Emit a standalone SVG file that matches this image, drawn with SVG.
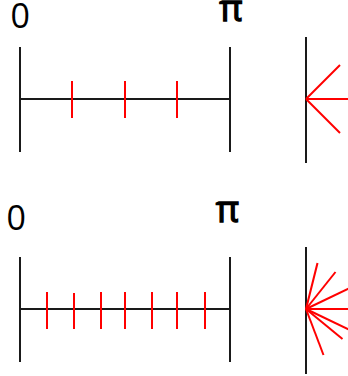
<svg xmlns="http://www.w3.org/2000/svg" width="348" height="376" viewBox="0 0 348 376">
<style>
.k{stroke:#1a1a1a;stroke-width:2;fill:none}
.r{stroke:#ff0000;stroke-width:2;fill:none}
.t{font-family:"Open Sans","Liberation Sans",sans-serif;font-size:34px;fill:#000}
.p{font-family:"Open Sans","Liberation Sans",sans-serif;font-size:36px;fill:#000;stroke:#000;stroke-width:1.3;text-anchor:middle}
</style>
<rect width="348" height="376" fill="#fff"/>
<g id="top-interval">
<text class="t" x="10.5" y="28">0</text>
<text class="p" x="231" y="21">π</text>
<line class="k" x1="20" y1="47" x2="20" y2="152"/>
<line class="k" x1="230" y1="47" x2="230" y2="152"/>
<line class="k" x1="20" y1="99" x2="230" y2="99"/>
<g class="r">
<line x1="72" y1="81" x2="72" y2="118"/>
<line x1="125" y1="81" x2="125" y2="118"/>
<line x1="177" y1="81" x2="177" y2="118"/>
</g>
</g>
<g id="top-fan">
<line class="k" x1="306" y1="37" x2="306" y2="163"/>
<g class="r">
<line x1="306" y1="99" x2="340" y2="65"/>
<line x1="306" y1="99" x2="348" y2="99"/>
<line x1="306" y1="99" x2="340" y2="133"/>
</g>
</g>
<g id="bottom-interval">
<text class="t" x="6.5" y="230">0</text>
<text class="p" x="227.5" y="222">π</text>
<line class="k" x1="20" y1="257" x2="20" y2="362"/>
<line class="k" x1="230" y1="257" x2="230" y2="362"/>
<line class="k" x1="20" y1="309" x2="230" y2="309"/>
<g class="r">
<line x1="47" y1="292" x2="47" y2="329"/>
<line x1="74" y1="293" x2="74" y2="329"/>
<line x1="101" y1="292" x2="101" y2="329"/>
<line x1="125" y1="292" x2="125" y2="329"/>
<line x1="152" y1="292" x2="152" y2="329"/>
<line x1="177" y1="292" x2="177" y2="329"/>
<line x1="205" y1="292" x2="205" y2="329"/>
</g>
</g>
<g id="bottom-fan">
<line class="k" x1="306" y1="247" x2="306" y2="374"/>
<g class="r">
<line x1="306" y1="309" x2="317.5" y2="263"/>
<line x1="306" y1="309" x2="335.5" y2="272"/>
<line x1="306" y1="309" x2="349" y2="288.5"/>
<line x1="306" y1="309" x2="350" y2="309"/>
<line x1="306" y1="309" x2="349" y2="329.5"/>
<line x1="306" y1="309" x2="342.5" y2="339"/>
<line x1="306" y1="309" x2="323.5" y2="355"/>
</g>
</g>
</svg>
